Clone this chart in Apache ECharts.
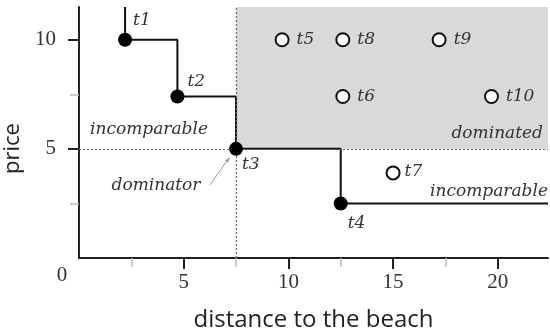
<!DOCTYPE html>
<html>
<head>
<meta charset="utf-8">
<script src="https://cdn.jsdelivr.net/npm/echarts@6/dist/echarts.min.js"></script>
<style>html,body{margin:0;padding:0;background:#fff}#c{width:550px;height:335px}</style>
</head>
<body>
<div id="c"></div>
<script>
// ---- data ----
const xMax = 22.4;
const yMax = 11.5;
const skylineNames = ['t1', 't2', 't3', 't4'];
const skylineX = [2.2, 4.7, 7.5, 12.5];
const skylineY = [10, 7.4, 5, 2.5];
const otherNames = ['t5', 't6', 't7', 't8', 't9', 't10'];
const otherX = [9.7, 12.6, 15, 12.6, 17.2, 19.7];
const otherY = [10, 7.4, 3.9, 10, 10, 7.4];
const xTickValues = [5, 10, 15, 20];
const xMinorValues = [2.5, 7.5, 12.5, 17.5];
const yTickValues = [5, 10];
const yMinorValues = [2.5, 7.5];
const dominatorName = 't3';

// ---- styles ----
const serifItalic = { fontFamily: 'DejaVu Serif', fontStyle: 'italic', fontSize: 17, color: '#333' };
const skylineLabelOffset = { t1: [1, -19], t2: [3, -15], t3: [-1, 16], t4: [0, 20] };
const otherLabelOffset = { t7: [-3, -1] };

const dIdx = skylineNames.indexOf(dominatorName);
const domX = skylineX[dIdx], domY = skylineY[dIdx];

const stepData = [[skylineX[0], yMax]]
  .concat(skylineX.map((x, i) => [x, skylineY[i]]))
  .concat([[xMax, skylineY[skylineY.length - 1]]]);

const chart = echarts.init(document.getElementById('c'));
const tickFont = { fontFamily: 'Liberation Serif', fontSize: 21, color: '#333' };
const nameFont = { fontFamily: 'Open Sans', color: '#222' };

chart.setOption({
  animation: false,
  grid: { left: 79, right: 2, top: 7, bottom: 77, containLabel: false, outerBoundsMode: 'none' },
  xAxis: [{
    type: 'value', min: 0, max: xMax, interval: 5,
    name: 'distance to the beach', nameLocation: 'middle', nameGap: 50,
    nameTextStyle: Object.assign({ fontSize: 24 }, nameFont),
    axisLine: { show: true, onZero: false, lineStyle: { color: '#222', width: 2 } },
    axisTick: { show: true, customValues: xTickValues, length: 11, lineStyle: { color: '#222', width: 2 } },
    axisLabel: Object.assign({ customValues: xTickValues, margin: 14 }, tickFont),
    splitLine: { show: false }
  }, {
    type: 'value', min: 0, max: xMax, position: 'bottom',
    axisLine: { show: false },
    axisTick: { show: true, customValues: xMinorValues, length: 9, lineStyle: { color: '#bbb', width: 1.5 } },
    axisLabel: { show: false }, splitLine: { show: false }
  }],
  yAxis: [{
    type: 'value', min: 0, max: yMax, interval: 5,
    name: 'price', nameLocation: 'middle', nameGap: 51, nameRotate: 90,
    nameTextStyle: Object.assign({ fontSize: 22, padding: [0, 32, 0, 0] }, nameFont),
    axisLine: { show: true, onZero: false, lineStyle: { color: '#222', width: 2 } },
    axisTick: { show: true, customValues: yTickValues, length: 11, lineStyle: { color: '#222', width: 2 } },
    axisLabel: Object.assign({ customValues: yTickValues, margin: 23 }, tickFont),
    splitLine: { show: false }
  }, {
    type: 'value', min: 0, max: yMax, position: 'left',
    axisLine: { show: false },
    axisTick: { show: true, customValues: yMinorValues, length: 9, lineStyle: { color: '#bbb', width: 1.5 } },
    axisLabel: { show: false }, splitLine: { show: false }
  }],
  series: [
    {
      type: 'line', name: 'skyline', data: stepData, step: 'end',
      symbol: 'none', silent: true, z: 3,
      lineStyle: { color: '#111', width: 2 },
      markArea: {
        silent: true, itemStyle: { color: '#d9d9d9' },
        data: [[{ xAxis: domX, yAxis: domY }, { xAxis: xMax, yAxis: yMax }]]
      },
      markLine: {
        silent: true, symbol: 'none', label: { show: false },
        lineStyle: { type: [2, 2], color: '#666', width: 1.2 },
        data: [{ xAxis: domX }, { yAxis: domY }]
      }
    },
    {
      type: 'scatter', name: 'skyline points', z: 5,
      data: skylineX.map((x, i) => ({
        value: [x, skylineY[i]], name: skylineNames[i],
        label: { offset: skylineLabelOffset[skylineNames[i]] }
      })),
      symbolSize: 14, itemStyle: { color: '#000', opacity: 1 },
      label: Object.assign({ show: true, position: 'right', distance: 0, formatter: '{b}' }, serifItalic)
    },
    {
      type: 'scatter', name: 'other points', z: 5,
      data: otherX.map((x, i) => ({
        value: [x, otherY[i]], name: otherNames[i],
        label: { offset: otherLabelOffset[otherNames[i]] || [0, 0] }
      })),
      symbolSize: 13, itemStyle: { color: '#fff', borderColor: '#111', borderWidth: 2, opacity: 1 },
      label: Object.assign({ show: true, position: 'right', distance: 7, formatter: '{b}' }, serifItalic)
    }
  ]
});

// annotations
const tp = chart.convertToPixel({ seriesIndex: 0 }, [domX, domY]);
const annFont = 'italic 17px "DejaVu Serif"';
chart.setOption({
  graphic: [
    { type: 'text', x: 62, y: 275, silent: true,
      style: { text: '0', font: '21px "Liberation Serif"', fill: '#333', align: 'center', verticalAlign: 'middle' } },
    { type: 'text', x: 149, y: 130, silent: true, z: 10,
      style: { text: 'incomparable', font: annFont, fill: '#333', align: 'center', verticalAlign: 'middle' } },
    { type: 'text', x: 543, y: 134, silent: true, z: 10,
      style: { text: 'dominated', font: annFont, fill: '#333', align: 'right', verticalAlign: 'middle' } },
    { type: 'text', x: 156, y: 186, silent: true, z: 10,
      style: { text: 'dominator', font: annFont, fill: '#333', align: 'center', verticalAlign: 'middle' } },
    { type: 'text', x: 548, y: 192, silent: true, z: 10,
      style: { text: 'incomparable', font: annFont, fill: '#333', align: 'right', verticalAlign: 'middle' } },
    { type: 'line', silent: true, z: 10,
      shape: { x1: tp[0] - 26, y1: tp[1] + 36, x2: tp[0] - 7, y2: tp[1] + 9 },
      style: { stroke: '#999', lineWidth: 1 } },
    { type: 'polygon', silent: true, z: 10,
      shape: { points: [[tp[0] - 6, tp[1] + 8], [tp[0] - 8, tp[1] + 14], [tp[0] - 11, tp[1] + 12]] },
      style: { fill: '#999' } }
  ]
});
</script>
</body>
</html>
